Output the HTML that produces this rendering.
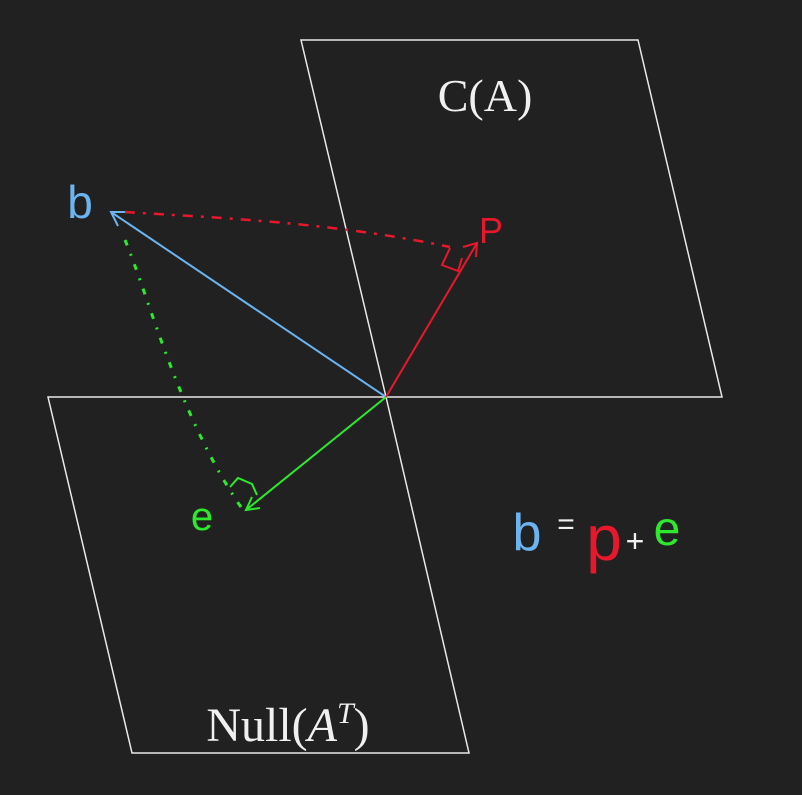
<!DOCTYPE html>
<html><head><meta charset="utf-8"><style>
html,body{margin:0;padding:0;background:#212121;}
svg{display:block}
</style></head><body>
<svg width="802" height="795" viewBox="0 0 802 795">
<rect width="802" height="795" fill="#212121"/>
<polygon points="301,40 638,40 722,397 386,397" fill="none" stroke="#e8e8e8" stroke-width="1.5"/>
<polygon points="48,397 386,397 469,753 132,753" fill="none" stroke="#e8e8e8" stroke-width="1.5"/>
<text x="485" y="111" text-anchor="middle" font-family="Liberation Serif, serif" font-size="46" fill="#f0f0f0">C(A)</text>
<text x="288" y="741" text-anchor="middle" font-family="Liberation Serif, serif" font-size="48" fill="#f0f0f0">Null(<tspan font-style="italic">A</tspan><tspan font-style="italic" font-size="30" dy="-18">T</tspan><tspan dy="18">)</tspan></text>
<g stroke="#6cb4f0" stroke-width="2" fill="none">
<line x1="386" y1="397" x2="111" y2="212"/>
<polyline points="126,212 111,212 118,226"/>
</g>
<g stroke="#e8182c" stroke-width="2" fill="none">
<line x1="386" y1="397" x2="477" y2="243"/>
<polyline points="463,247 477,243 476,257"/>
<polyline points="450,248 442,265 458,271 462,258" />
</g>
<g stroke="#2ee82e" stroke-width="2" fill="none">
<line x1="386" y1="397" x2="246" y2="510"/>
<polyline points="252,497 246,510 260,508"/>
<polyline points="230,487 238,478 252,484 257,495"/>
</g>
<path d="M125,212 C220,218 330,222 450,247" fill="none" stroke="#e8182c" stroke-width="2.5" stroke-dasharray="10,8,3,8"/>
<path d="M125,240 C150,300 180,420 243,510" fill="none" stroke="#2ee82e" stroke-width="3" stroke-dasharray="6,9,2,9"/>
<text x="80" y="218" text-anchor="middle" font-family="Liberation Sans, sans-serif" font-size="46" fill="#6cb4f0">b</text>
<text x="491" y="243" text-anchor="middle" font-family="Liberation Sans, sans-serif" font-size="36" fill="#e8182c">P</text>
<text x="202" y="530" text-anchor="middle" font-family="Liberation Sans, sans-serif" font-size="40" fill="#2ee82e">e</text>
<g font-family="Liberation Sans, sans-serif">
<text x="527" y="550" text-anchor="middle" font-size="52" fill="#6cb4f0">b</text>
<text x="566" y="534" text-anchor="middle" font-size="30" fill="#f0f0f0">=</text>
<text x="604" y="560" text-anchor="middle" font-size="64" fill="#e8182c">p</text>
<text x="635" y="552" text-anchor="middle" font-size="32" fill="#f0f0f0">+</text>
<text x="667" y="545" text-anchor="middle" font-size="48" fill="#2ee82e">e</text>
</g>
</svg>
</body></html>
